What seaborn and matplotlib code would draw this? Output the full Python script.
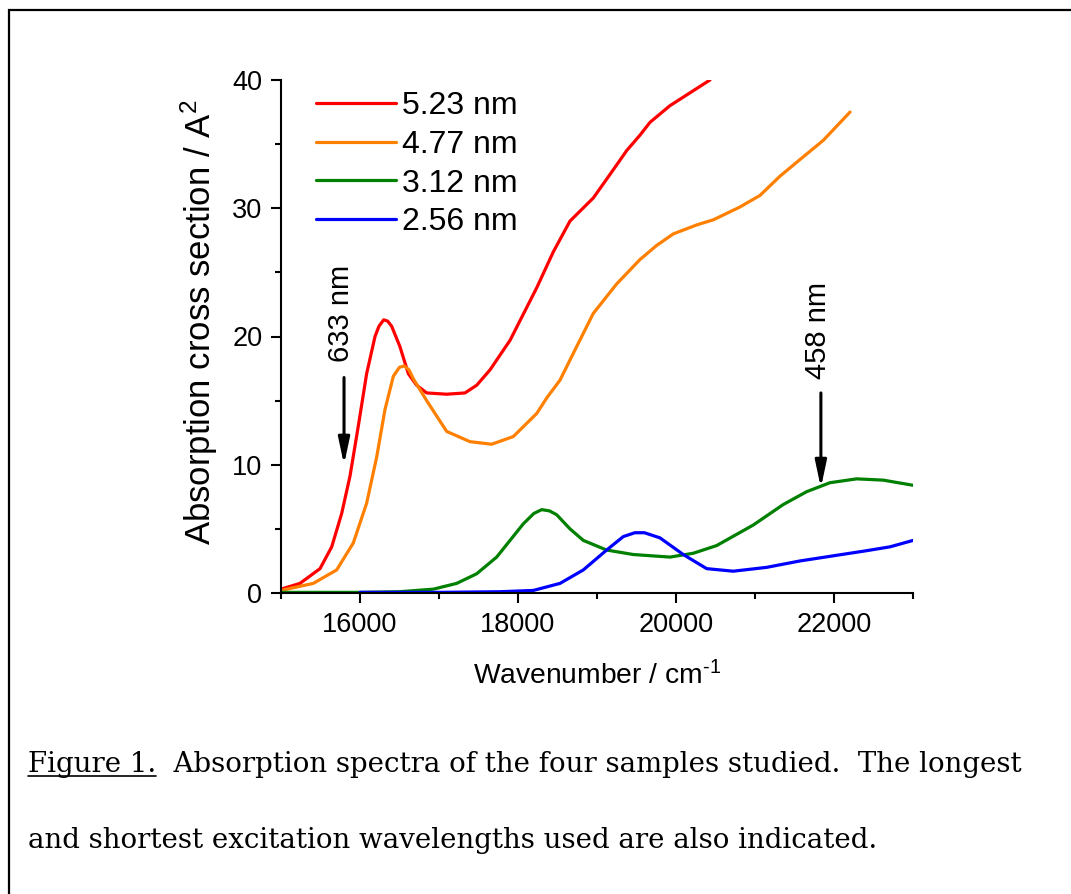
import numpy as np
import pandas as pd
import matplotlib
matplotlib.use("Agg")
import matplotlib.pyplot as plt
from matplotlib.lines import Line2D
from matplotlib.patches import Rectangle
import seaborn as sns

# absorption spectra (wavenumber / cm^-1, cross section / A^2)
red_x = [15000, 15240, 15494, 15642, 15768, 15873, 15978, 16084, 16190, 16240,
         16300, 16350, 16401, 16506, 16612, 16717, 16844, 17097, 17329, 17477,
         17646, 17899, 18237, 18447, 18658, 18953, 19206, 19376, 19544, 19671,
         19924, 20177, 20430]
red_y = [0.3, 0.75, 1.9, 3.6, 6.2, 9.1, 13.0, 17.1, 20.0, 20.8,
         21.3, 21.2, 20.8, 19.2, 17.1, 16.2, 15.6, 15.5, 15.6, 16.2,
         17.4, 19.7, 23.8, 26.6, 29.0, 30.8, 33.0, 34.5, 35.7, 36.7,
         38.0, 39.0, 40.0]

orange_x = [15000, 15409, 15705, 15915, 16084, 16211, 16316, 16422, 16500, 16560,
            16620, 16675, 16844, 17097, 17392, 17667, 17941, 18237, 18363, 18532,
            18701, 18953, 19249, 19544, 19755, 19966, 20262, 20473, 20810, 21063,
            21316, 21570, 21865, 22203]
orange_y = [0.2, 0.75, 1.8, 3.9, 7.0, 10.6, 14.3, 16.9, 17.6, 17.7,
            17.4, 16.7, 15.0, 12.6, 11.8, 11.6, 12.2, 14.0, 15.2, 16.6,
            18.7, 21.8, 24.1, 26.0, 27.1, 28.0, 28.7, 29.1, 30.1, 31.0,
            32.5, 33.8, 35.3, 37.5]

green_x = [15000, 16000, 16500, 16929, 17224, 17477, 17730, 17899, 18068, 18200,
           18300, 18400, 18490, 18658, 18827, 19122, 19459, 19924, 20219, 20515,
           20978, 21358, 21654, 21949, 22287, 22624, 23000]
green_y = [0.05, 0.05, 0.1, 0.3, 0.75, 1.5, 2.8, 4.1, 5.4, 6.2,
           6.5, 6.4, 6.1, 5.0, 4.1, 3.35, 3.0, 2.8, 3.1, 3.7,
           5.3, 6.9, 7.9, 8.6, 8.9, 8.8, 8.4]

blue_x = [16000, 17000, 17772, 18194, 18532, 18827, 19122, 19333, 19480, 19600,
          19797, 20092, 20388, 20725, 21148, 21570, 21992, 22414, 22709, 23000]
blue_y = [0.05, 0.05, 0.1, 0.2, 0.75, 1.8, 3.35, 4.4, 4.7, 4.7,
          4.3, 3.0, 1.9, 1.7, 2.0, 2.5, 2.9, 3.3, 3.6, 4.1]

sizes = ["5.23 nm", "4.77 nm", "3.12 nm", "2.56 nm"]
colors = ["#FF0000", "#FF8000", "#008000", "#0000FF"]

# excitation wavelengths marked with arrows
exc_nm = [633, 458]
arrow_tail = [16.8, 15.6]
arrow_tip = [10.0, 8.2]
label_y = [21.8, 20.5]

caption_0 = "Figure 1."
caption_1 = "  Absorption spectra of the four samples studied.  The longest"
caption_2 = "and shortest excitation wavelengths used are also indicated."

frames = []
for name, xs, ys in zip(sizes, [red_x, orange_x, green_x, blue_x],
                        [red_y, orange_y, green_y, blue_y]):
    frames.append(pd.DataFrame({"wavenumber": xs, "sigma": ys, "size": name}))
df = pd.concat(frames, ignore_index=True)

sns.set_theme(style="ticks")
plt.rcParams["font.family"] = ["Liberation Sans", "DejaVu Sans"]
plt.rcParams["mathtext.fontset"] = "custom"
plt.rcParams["mathtext.rm"] = "Liberation Sans"
plt.rcParams["mathtext.it"] = "Liberation Sans:italic"
plt.rcParams["text.color"] = "black"
plt.rcParams["axes.labelcolor"] = "black"
plt.rcParams["xtick.color"] = "black"
plt.rcParams["ytick.color"] = "black"

fig = plt.figure(figsize=(10.71, 8.94), dpi=100)
ax = fig.add_axes([281 / 1071, 1 - 593 / 894, 632 / 1071, 513 / 894])

sns.lineplot(data=df, x="wavenumber", y="sigma", hue="size", hue_order=sizes,
             palette=dict(zip(sizes, colors)), estimator=None, sort=False,
             linewidth=2.3, ax=ax)

ax.set_xlim(15000, 23000)
ax.set_ylim(0, 40)
ax.set_xticks([16000, 18000, 20000, 22000])
ax.set_xticks(np.arange(15000, 23001, 1000), minor=True)
ax.set_yticks([0, 10, 20, 30, 40])
ax.set_yticks([5, 15, 25, 35], minor=True)
ax.tick_params(which="major", length=7.5, width=1.5, labelsize=19.5, pad=6)
ax.tick_params(which="minor", length=4, width=1.5)
for s in ["left", "bottom"]:
    ax.spines[s].set_linewidth(1.5)
    ax.spines[s].set_color("black")
sns.despine(ax=ax)

ax.set_xlabel(r"Wavenumber / cm$^{\text{-1}}$", fontsize=20.3, labelpad=17)
ax.set_ylabel("Absorption cross section / A$^{2}$", fontsize=25)
ax.yaxis.set_label_coords(-0.097, 0.527)

leg = ax.legend(loc="upper left", bbox_to_anchor=(0.056, 0.978), frameon=False,
                fontsize=23, handlelength=2.5, handletextpad=0.18,
                labelspacing=0.27, borderpad=0, borderaxespad=0)
for h in leg.get_lines():
    h.set_linewidth(2.3)

for nm, t0, t1, ly in zip(exc_nm, arrow_tail, arrow_tip, label_y):
    wn = 1e7 / nm
    ax.annotate("", xy=(wn, t1), xytext=(wn, t0),
                arrowprops=dict(arrowstyle="-|>,head_length=0.8,head_width=0.17",
                                mutation_scale=20, lw=2.2, color="black",
                                shrinkA=0, shrinkB=0))
    ax.text(wn - 40, ly, f"{nm} nm", rotation=90, ha="center", va="center",
            fontsize=21)

# page frame
fig.patches.append(Rectangle((9 / 1071, -0.1), 1.2, 1 - 10 / 894 + 0.1,
                             transform=fig.transFigure, fill=False,
                             lw=1.6, edgecolor="black"))

# caption, sized so the first line spans the same width as in the original
serif = ["DejaVu Serif"]
fig.canvas.draw()
r = fig.canvas.get_renderer()
probe = fig.text(0, 0, caption_0 + caption_1, family=serif, fontsize=20)
fs = 20 * 994 / probe.get_window_extent(r).width
probe.remove()

t = fig.text(28 / 1071, 1 - 772 / 894, caption_0, family=serif, fontsize=fs,
             va="baseline", ha="left")
ext = t.get_window_extent(r)
uy = (ext.y0 + 2) / 894
fig.add_artist(Line2D([ext.x0 / 1071, ext.x1 / 1071], [uy, uy],
                      transform=fig.transFigure, color="black", lw=1.2))
fig.text(ext.x1 / 1071, 1 - 772 / 894, caption_1, family=serif, fontsize=fs,
         va="baseline", ha="left")
fig.text(28 / 1071, 1 - 848 / 894, caption_2, family=serif, fontsize=fs,
         va="baseline", ha="left")

fig.savefig("out.png", dpi=100)
